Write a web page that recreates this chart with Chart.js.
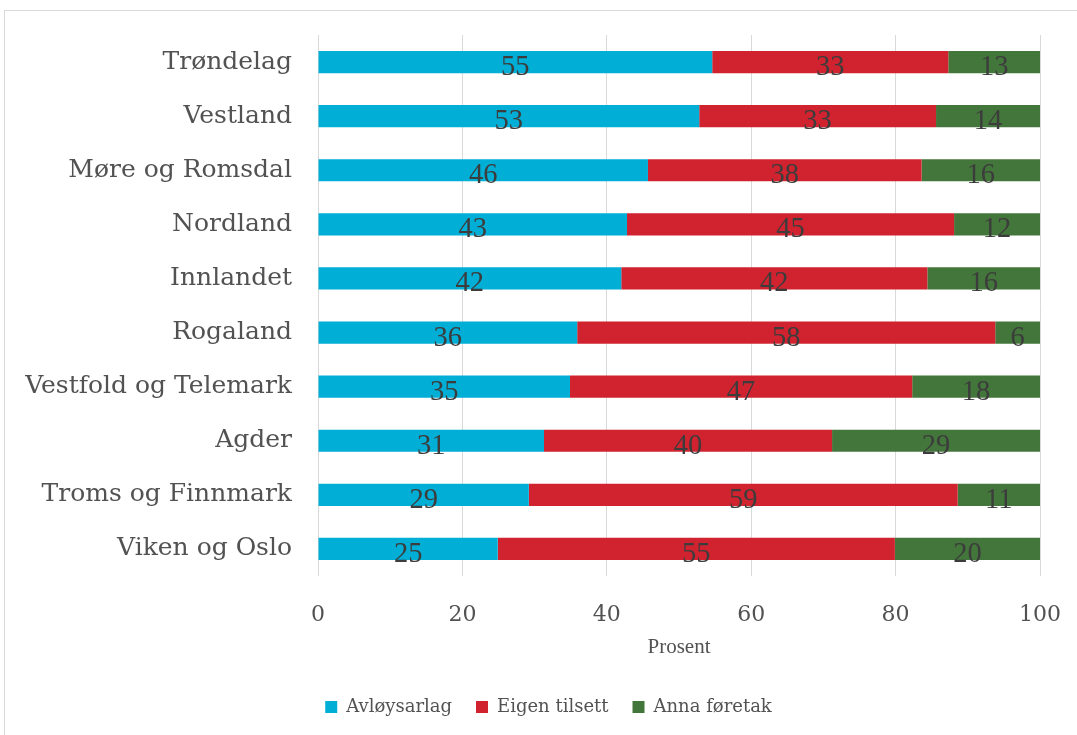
<!DOCTYPE html>
<html lang="nn">
<head>
<meta charset="UTF-8">
<title>Avløysing etter fylke</title>
<script src="https://cdn.jsdelivr.net/npm/chart.js"></script>
<style>
  body { margin: 0; background: #fff; overflow: hidden; }
  #wrap { position: relative; width: 1077px; height: 735px; }
  #frame { position: absolute; left: 4px; top: 10px; width: 1100px; height: 800px; border: 1px solid #d9d9d9; }
  canvas { position: absolute; left: 0; top: 0; }
</style>
</head>
<body>
<div id="wrap">
  <div id="frame"></div>
  <canvas id="chart" width="1077" height="735"></canvas>
</div>
<script>
// data (bar widths in percent, labels are rounded)
const regions = ['Trøndelag', 'Vestland', 'Møre og Romsdal', 'Nordland', 'Innlandet',
  'Rogaland', 'Vestfold og Telemark', 'Agder', 'Troms og Finnmark', 'Viken og Oslo'];
const avloysarlag  = [54.6, 52.8, 45.7, 42.8, 42.0, 35.9, 34.9, 31.3, 29.2, 24.9];
const eigenTilsett = [32.7, 32.8, 37.9, 45.3, 42.4, 57.9, 47.4, 39.9, 59.4, 55.0];
const annaForetak  = [12.7, 14.4, 16.4, 11.9, 15.6, 6.2, 17.7, 28.8, 11.4, 20.1];
const xTicks = [0, 20, 40, 60, 80, 100];

const serif = '"DejaVu Serif", Georgia, serif';
const grey = '#525252';

// numbers centred in each segment, tall narrow serif like the original
const segmentLabels = {
  id: 'segmentLabels',
  afterDatasetsDraw(chart) {
    const ctx = chart.ctx;
    ctx.save();
    ctx.fillStyle = '#3c3c3c';
    ctx.font = '30px "Liberation Serif", serif';
    ctx.textAlign = 'center';
    ctx.textBaseline = 'alphabetic';
    chart.data.datasets.forEach((ds, i) => {
      chart.getDatasetMeta(i).data.forEach((bar, j) => {
        const p = bar.getProps(['x', 'y', 'base'], true);
        ctx.save();
        ctx.translate((p.x + p.base) / 2, p.y + 13);
        ctx.scale(0.95, 1);
        ctx.fillText(Math.round(ds.data[j]), 0, 0);
        ctx.restore();
      });
    });
    ctx.restore();
  }
};

new Chart(document.getElementById('chart'), {
  type: 'bar',
  data: {
    labels: regions,
    datasets: [
      { label: 'Avløysarlag', data: avloysarlag, backgroundColor: '#00AED6' },
      { label: 'Eigen tilsett', data: eigenTilsett, backgroundColor: '#D1232F' },
      { label: 'Anna føretak', data: annaForetak, backgroundColor: '#43763A' }
    ]
  },
  plugins: [segmentLabels],
  options: {
    indexAxis: 'y',
    responsive: false,
    animation: false,
    layout: { padding: { top: 35, left: 20, right: 0, bottom: 9 } },
    datasets: { bar: { categoryPercentage: 1, barPercentage: 0.41 } },
    scales: {
      x: {
        stacked: true,
        min: 0,
        max: 100,
        afterBuildTicks: s => { s.ticks = xTicks.map(v => ({ value: v })); },
        afterFit: s => { s.paddingRight = 37; s.height = 98; },
        grid: { color: '#d9d9d9', drawTicks: false },
        border: { display: false },
        ticks: { color: grey, padding: 26, font: { family: serif, size: 22 } },
        title: {
          display: true, text: 'Prosent', color: grey,
          font: { family: '"Liberation Serif", serif', size: 21 },
          padding: { top: 0, bottom: 14 }
        }
      },
      y: {
        stacked: true,
        afterFit: s => { s.width = 298; },
        grid: { display: false },
        border: { display: false },
        ticks: { color: grey, padding: 18, autoSkip: false, font: { family: serif, size: 25 } }
      }
    },
    plugins: {
      legend: {
        position: 'bottom',
        labels: { color: grey, boxWidth: 12, boxHeight: 12, padding: 24, font: { family: serif, size: 18 } }
      },
      tooltip: { enabled: false }
    }
  }
});
</script>
</body>
</html>
